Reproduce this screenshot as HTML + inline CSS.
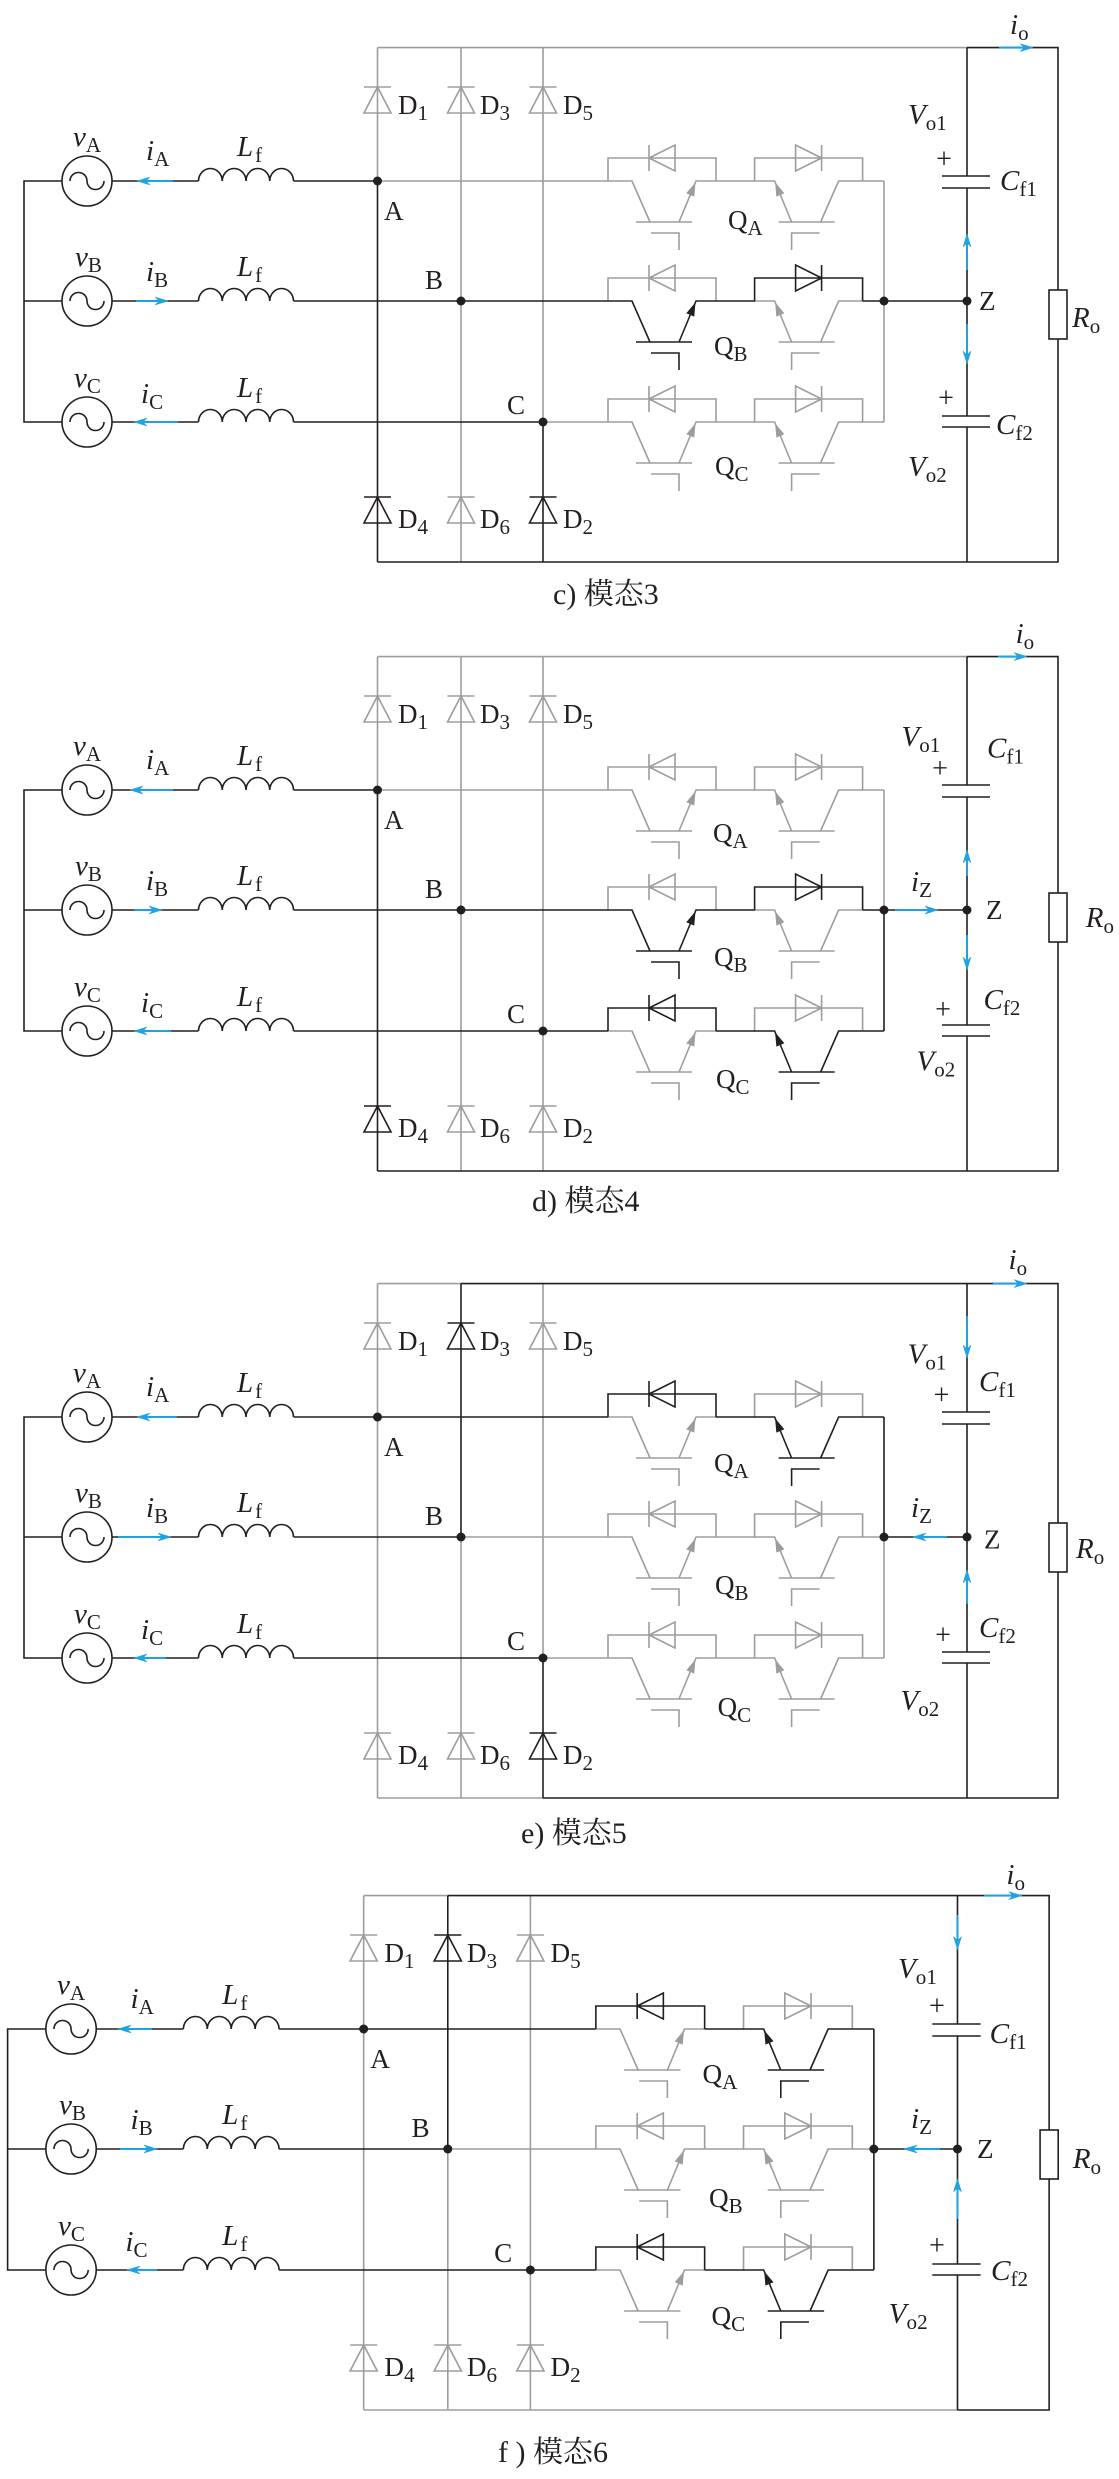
<!DOCTYPE html>
<html><head><meta charset="utf-8">
<style>
html,body{margin:0;padding:0;background:#fff;}
svg{display:block;}
.k{color:#231f20;}
.g{color:#9d9d9d;}
.b{color:#1ea2e4;}
.t{font-family:"Liberation Serif","Noto Serif CJK SC",serif;font-size:27px;fill:#231f20;}
.v{font-size:29px;}
.p{font-size:28px;}
.s{font-size:21px;font-style:normal;}
.i{font-style:italic;}
.cap{font-family:"Liberation Serif","Noto Serif CJK SC",serif;font-size:30px;fill:#231f20;}
</style></head>
<body>
<svg width="1119" height="2479" viewBox="0 0 1119 2479" xmlns="http://www.w3.org/2000/svg" stroke-width="1.6" fill="none">
<defs>
<path id="dv" d="M-13.5,-13H13.5M0,-13L-13.5,13H13.5Z" fill="none" stroke="currentColor"/>
<path id="hc" d="M608,0V-23H716V0M649,-36V-10M649,-23L675,-36V-10Z" fill="none" stroke="currentColor"/>
<g id="ig">
<path d="M608,0H632L650,41M636,41H692M679,41L696,0H716M651,52H679V69" fill="none" stroke="currentColor"/>
<polygon points="695,2.5 686.9,12.1 693.9,15.0" fill="currentColor" stroke="currentColor" stroke-width="0.8"/>
</g>
<g id="left" fill="none" stroke="currentColor">
<path d="M62,181H24V422H62M24,301H62"/>
<circle cx="87" cy="181" r="25"/><circle cx="87" cy="301" r="25"/><circle cx="87" cy="422" r="25"/>
<path d="M70,181A8.5,8.5 0 0 1 87,181A8.5,8.5 0 0 0 104,181M70,301A8.5,8.5 0 0 1 87,301A8.5,8.5 0 0 0 104,301M70,422A8.5,8.5 0 0 1 87,422A8.5,8.5 0 0 0 104,422"/>
<path d="M112,181H198.5M293.5,181H377.5M112,301H198.5M293.5,301H461M112,422H198.5M293.5,422H543"/>
<path d="M198.5,181a11.875,12.5 0 0 1 23.75,0a11.875,12.5 0 0 1 23.75,0a11.875,12.5 0 0 1 23.75,0a11.875,12.5 0 0 1 23.75,0"/>
<path d="M198.5,301a11.875,12.5 0 0 1 23.75,0a11.875,12.5 0 0 1 23.75,0a11.875,12.5 0 0 1 23.75,0a11.875,12.5 0 0 1 23.75,0"/>
<path d="M198.5,422a11.875,12.5 0 0 1 23.75,0a11.875,12.5 0 0 1 23.75,0a11.875,12.5 0 0 1 23.75,0a11.875,12.5 0 0 1 23.75,0"/>
</g>
<path id="cap" fill="none" stroke="currentColor" d="M967,47.6V176M942,176H990M942,188H990M967,188V416M942,416H990M942,427H990M967,427V562M884,301H967"/>
<g id="dots" fill="currentColor" stroke="none">
<circle cx="377.5" cy="181" r="4.5"/><circle cx="461" cy="301" r="4.5"/><circle cx="543" cy="422" r="4.5"/><circle cx="884" cy="301" r="4.5"/><circle cx="967" cy="301" r="4.5"/>
</g>
<g id="ltxt">
<text class="t v" x="73" y="146"><tspan class="i">v</tspan><tspan class="s" dy="6">A</tspan></text>
<text class="t v" x="75" y="266"><tspan class="i">v</tspan><tspan class="s" dy="6">B</tspan></text>
<text class="t v" x="74" y="387"><tspan class="i">v</tspan><tspan class="s" dy="6">C</tspan></text>
<text class="t v" x="146" y="160"><tspan class="i">i</tspan><tspan class="s" dy="6">A</tspan></text>
<text class="t v" x="146" y="281"><tspan class="i">i</tspan><tspan class="s" dy="6">B</tspan></text>
<text class="t v" x="141" y="403"><tspan class="i">i</tspan><tspan class="s" dy="6">C</tspan></text>
<text class="t v" x="237" y="156"><tspan class="i">L</tspan><tspan class="s" dx="2" dy="6">f</tspan></text>
<text class="t v" x="237" y="276"><tspan class="i">L</tspan><tspan class="s" dx="2" dy="6">f</tspan></text>
<text class="t v" x="237" y="397"><tspan class="i">L</tspan><tspan class="s" dx="2" dy="6">f</tspan></text>
<text class="t" x="384" y="220">A</text>
<text class="t" x="425" y="289">B</text>
<text class="t" x="507" y="414">C</text>
<text class="t" x="398" y="114">D<tspan class="s" dy="6">1</tspan></text>
<text class="t" x="480" y="114">D<tspan class="s" dy="6">3</tspan></text>
<text class="t" x="563" y="114">D<tspan class="s" dy="6">5</tspan></text>
<text class="t" x="398" y="528">D<tspan class="s" dy="6">4</tspan></text>
<text class="t" x="480" y="528">D<tspan class="s" dy="6">6</tspan></text>
<text class="t" x="563" y="528">D<tspan class="s" dy="6">2</tspan></text>
</g>
</defs>

<!-- ================= PANEL C ================= -->
<g transform="translate(0,0)">
<g class="g">
<path stroke="currentColor" d="M377.5,47.6H967M377.5,47.6V181M461,47.6V562M543,47.6V422M377.5,181H608M543,422H608M884,181V422M716,181H755M862.6,181H884M716,422H755M862.6,422H884"/>
<use href="#dv" x="377.5" y="100"/><use href="#dv" x="461" y="100"/><use href="#dv" x="543" y="100"/><use href="#dv" x="461" y="510"/>
<use href="#hc" transform="translate(0,181)"/><use href="#ig" transform="translate(0,181)"/>
<use href="#hc" transform="matrix(-1,0,0,1,1470.6,181)"/><use href="#ig" transform="matrix(-1,0,0,1,1470.6,181)"/>
<use href="#hc" transform="translate(0,301)"/><use href="#ig" transform="matrix(-1,0,0,1,1470.6,301)"/>
<use href="#hc" transform="translate(0,422)"/><use href="#ig" transform="translate(0,422)"/>
<use href="#hc" transform="matrix(-1,0,0,1,1470.6,422)"/><use href="#ig" transform="matrix(-1,0,0,1,1470.6,422)"/>
</g>
<g class="k">
<path stroke="currentColor" d="M377.5,181V562M543,422V562M377.5,562H967M967,47.6H1058V290M1058,339V562H967M461,301H608M716,301H755M862.6,301H884"/>
<rect x="1049" y="290" width="18" height="49" stroke="currentColor"/>
<use href="#dv" x="377.5" y="510"/><use href="#dv" x="543" y="510"/>
<use href="#ig" transform="translate(0,301)"/><use href="#hc" transform="matrix(-1,0,0,1,1470.6,301)"/>
<use href="#left"/><use href="#cap"/><use href="#dots"/>
</g>
<g class="b" fill="currentColor" stroke="currentColor" stroke-width="2">
<path d="M173,181H145"/><polygon stroke-width="0.5" points="137,181 150,177 146,181 150,185"/>
<path d="M136,301H160"/><polygon stroke-width="0.5" points="168,301 155,297 159,301 155,305"/>
<path d="M178,422H142"/><polygon stroke-width="0.5" points="134,422 147,418 143,422 147,426"/>
<path d="M999,47.6H1025"/><polygon stroke-width="0.5" points="1033,47.6 1020,43.6 1024,47.6 1020,51.6"/>
<path d="M967,270V242"/><polygon stroke-width="0.5" points="967,234 963,247 967,243 971,247"/>
<path d="M967,324V356"/><polygon stroke-width="0.5" points="967,364 963,351 967,355 971,351"/>
</g>
<use href="#ltxt"/>
<text class="t v" x="1010" y="34"><tspan class="i">i</tspan><tspan class="s" dy="6">o</tspan></text>
<text class="t v" x="908" y="124"><tspan class="i">V</tspan><tspan class="s" dy="6">o1</tspan></text>
<text class="t p" x="944" y="168" text-anchor="middle">+</text>
<text class="t v" x="1000" y="190"><tspan class="i">C</tspan><tspan class="s" dy="6">f1</tspan></text>
<text class="t" x="979" y="310">Z</text>
<text class="t v" x="996" y="434"><tspan class="i">C</tspan><tspan class="s" dy="6">f2</tspan></text>
<text class="t p" x="946" y="407" text-anchor="middle">+</text>
<text class="t v" x="908" y="476"><tspan class="i">V</tspan><tspan class="s" dy="6">o2</tspan></text>
<text class="t v" x="1072" y="327"><tspan class="i">R</tspan><tspan class="s" dy="6">o</tspan></text>
<text class="t" x="728" y="229">Q<tspan class="s" dy="6">A</tspan></text>
<text class="t" x="714" y="355">Q<tspan class="s" dy="6">B</tspan></text>
<text class="t" x="715" y="475">Q<tspan class="s" dy="6">C</tspan></text>
</g>
<text class="cap" x="553" y="604">c) 模态3</text>

<!-- ================= PANEL D ================= -->
<g transform="translate(0,609)">
<g class="g">
<path stroke="currentColor" d="M377.5,47.6H967M377.5,47.6V181M461,47.6V562M543,47.6V562M377.5,181H608M884,181V301M716,181H755M862.6,181H884"/>
<use href="#dv" x="377.5" y="100"/><use href="#dv" x="461" y="100"/><use href="#dv" x="543" y="100"/><use href="#dv" x="461" y="510"/><use href="#dv" x="543" y="510"/>
<use href="#hc" transform="translate(0,181)"/><use href="#ig" transform="translate(0,181)"/>
<use href="#hc" transform="matrix(-1,0,0,1,1470.6,181)"/><use href="#ig" transform="matrix(-1,0,0,1,1470.6,181)"/>
<use href="#hc" transform="translate(0,301)"/><use href="#ig" transform="matrix(-1,0,0,1,1470.6,301)"/>
<use href="#ig" transform="translate(0,422)"/><use href="#hc" transform="matrix(-1,0,0,1,1470.6,422)"/>
</g>
<g class="k">
<path stroke="currentColor" d="M377.5,181V562M377.5,562H967M967,47.6H1058V284M1058,333V562H967M461,301H608M543,422H608M716,301H755M862.6,301H884M716,422H755M862.6,422H884M884,301V422"/>
<rect x="1049" y="284" width="18" height="49" stroke="currentColor"/>
<use href="#dv" x="377.5" y="510"/>
<use href="#ig" transform="translate(0,301)"/><use href="#hc" transform="matrix(-1,0,0,1,1470.6,301)"/>
<use href="#hc" transform="translate(0,422)"/><use href="#ig" transform="matrix(-1,0,0,1,1470.6,422)"/>
<use href="#left"/><use href="#cap"/><use href="#dots"/>
</g>
<g class="b" fill="currentColor" stroke="currentColor" stroke-width="2">
<path d="M173,181H138"/><polygon stroke-width="0.5" points="130,181 143,177 139,181 143,185"/>
<path d="M134,301H154"/><polygon stroke-width="0.5" points="162,301 149,297 153,301 149,305"/>
<path d="M171,422H142"/><polygon stroke-width="0.5" points="134,422 147,418 143,422 147,426"/>
<path d="M998,47.6H1019"/><polygon stroke-width="0.5" points="1027,47.6 1014,43.6 1018,47.6 1014,51.6"/>
<path d="M967,267V249"/><polygon stroke-width="0.5" points="967,241 963,254 967,250 971,254"/>
<path d="M967,326V353"/><polygon stroke-width="0.5" points="967,361 963,348 967,352 971,348"/>
<path d="M895,301H930"/><polygon stroke-width="0.5" points="938,301 925,297 929,301 925,305"/>
</g>
<use href="#ltxt"/>
<text class="t v" x="1015.6" y="34"><tspan class="i">i</tspan><tspan class="s" dy="6">o</tspan></text>
<text class="t v" x="901.5" y="137"><tspan class="i">V</tspan><tspan class="s" dy="6">o1</tspan></text>
<text class="t p" x="940" y="168.5" text-anchor="middle">+</text>
<text class="t v" x="987" y="148.5"><tspan class="i">C</tspan><tspan class="s" dy="6">f1</tspan></text>
<text class="t v" x="911" y="282"><tspan class="i">i</tspan><tspan class="s" dy="6">Z</tspan></text>
<text class="t" x="986" y="310">Z</text>
<text class="t v" x="983.5" y="400"><tspan class="i">C</tspan><tspan class="s" dy="6">f2</tspan></text>
<text class="t p" x="943" y="409.5" text-anchor="middle">+</text>
<text class="t v" x="916.5" y="461.5"><tspan class="i">V</tspan><tspan class="s" dy="6">o2</tspan></text>
<text class="t v" x="1085.8" y="318"><tspan class="i">R</tspan><tspan class="s" dy="6">o</tspan></text>
<text class="t" x="713" y="233">Q<tspan class="s" dy="6">A</tspan></text>
<text class="t" x="714" y="357">Q<tspan class="s" dy="6">B</tspan></text>
<text class="t" x="716" y="479">Q<tspan class="s" dy="6">C</tspan></text>
</g>
<text class="cap" x="532" y="1211">d) 模态4</text>

<!-- ================= PANEL E ================= -->
<g transform="translate(0,1236)">
<g class="g">
<path stroke="currentColor" d="M377.5,47.6H461M377.5,47.6V562M461,301V562M543,47.6V422M377.5,562H543M461,301H608M543,422H608M884,301V422M716,301H755M862.6,301H884M716,422H755M862.6,422H884"/>
<use href="#dv" x="377.5" y="100"/><use href="#dv" x="543" y="100"/><use href="#dv" x="377.5" y="510"/><use href="#dv" x="461" y="510"/>
<use href="#ig" transform="translate(0,181)"/><use href="#hc" transform="matrix(-1,0,0,1,1470.6,181)"/>
<use href="#hc" transform="translate(0,301)"/><use href="#ig" transform="translate(0,301)"/>
<use href="#hc" transform="matrix(-1,0,0,1,1470.6,301)"/><use href="#ig" transform="matrix(-1,0,0,1,1470.6,301)"/>
<use href="#hc" transform="translate(0,422)"/><use href="#ig" transform="translate(0,422)"/>
<use href="#hc" transform="matrix(-1,0,0,1,1470.6,422)"/><use href="#ig" transform="matrix(-1,0,0,1,1470.6,422)"/>
</g>
<g class="k">
<path stroke="currentColor" d="M461,47.6H1058V287M1058,336V562H543M461,47.6V301M543,422V562M377.5,181H608M716,181H755M862.6,181H884M884,181V301"/>
<rect x="1049" y="287" width="18" height="49" stroke="currentColor"/>
<use href="#dv" x="461" y="100"/><use href="#dv" x="543" y="510"/>
<use href="#hc" transform="translate(0,181)"/><use href="#ig" transform="matrix(-1,0,0,1,1470.6,181)"/>
<use href="#left"/><use href="#cap"/><use href="#dots"/>
</g>
<g class="b" fill="currentColor" stroke="currentColor" stroke-width="2">
<path d="M177,181H145"/><polygon stroke-width="0.5" points="137,181 150,177 146,181 150,185"/>
<path d="M118,301H163"/><polygon stroke-width="0.5" points="171,301 158,297 162,301 158,305"/>
<path d="M166,422H142"/><polygon stroke-width="0.5" points="134,422 147,418 143,422 147,426"/>
<path d="M993,47.6H1019"/><polygon stroke-width="0.5" points="1027,47.6 1014,43.6 1018,47.6 1014,51.6"/>
<path d="M967,80V114"/><polygon stroke-width="0.5" points="967,122 963,109 967,113 971,109"/>
<path d="M967,368V342"/><polygon stroke-width="0.5" points="967,334 963,347 967,343 971,347"/>
<path d="M947,301H921"/><polygon stroke-width="0.5" points="913,301 926,297 922,301 926,305"/>
</g>
<use href="#ltxt"/>
<text class="t v" x="1008.5" y="33"><tspan class="i">i</tspan><tspan class="s" dy="6">o</tspan></text>
<text class="t v" x="907.6" y="127.5"><tspan class="i">V</tspan><tspan class="s" dy="6">o1</tspan></text>
<text class="t p" x="941.5" y="168" text-anchor="middle">+</text>
<text class="t v" x="979" y="155"><tspan class="i">C</tspan><tspan class="s" dy="6">f1</tspan></text>
<text class="t v" x="911" y="281"><tspan class="i">i</tspan><tspan class="s" dy="6">Z</tspan></text>
<text class="t" x="984" y="312.6">Z</text>
<text class="t v" x="979" y="401"><tspan class="i">C</tspan><tspan class="s" dy="6">f2</tspan></text>
<text class="t p" x="943" y="408" text-anchor="middle">+</text>
<text class="t v" x="900.5" y="474"><tspan class="i">V</tspan><tspan class="s" dy="6">o2</tspan></text>
<text class="t v" x="1076" y="322"><tspan class="i">R</tspan><tspan class="s" dy="6">o</tspan></text>
<text class="t" x="714" y="236">Q<tspan class="s" dy="6">A</tspan></text>
<text class="t" x="715" y="358">Q<tspan class="s" dy="6">B</tspan></text>
<text class="t" x="717.6" y="480">Q<tspan class="s" dy="6">C</tspan></text>
</g>
<text class="cap" x="521" y="1843">e) 模态5</text>

<!-- ================= PANEL F ================= -->
<g transform="translate(-16.58,1848) scale(1.0073,1)">
<g class="g">
<path stroke="currentColor" d="M377.5,47.6H461M377.5,47.6V562M461,301V562M543,47.6V562M377.5,562H967M461,301H608M716,301H755M862.6,301H884"/>
<use href="#dv" x="377.5" y="100"/><use href="#dv" x="543" y="100"/><use href="#dv" x="377.5" y="510"/><use href="#dv" x="461" y="510"/><use href="#dv" x="543" y="510"/>
<use href="#ig" transform="translate(0,181)"/><use href="#hc" transform="matrix(-1,0,0,1,1470.6,181)"/>
<use href="#hc" transform="translate(0,301)"/><use href="#ig" transform="translate(0,301)"/>
<use href="#hc" transform="matrix(-1,0,0,1,1470.6,301)"/><use href="#ig" transform="matrix(-1,0,0,1,1470.6,301)"/>
<use href="#ig" transform="translate(0,422)"/><use href="#hc" transform="matrix(-1,0,0,1,1470.6,422)"/>
</g>
<g class="k">
<path stroke="currentColor" d="M461,47.6H1058V282M1058,331V562H967M461,47.6V301M377.5,181H608M543,422H608M716,181H755M862.6,181H884M716,422H755M862.6,422H884M884,181V422"/>
<rect x="1049" y="282" width="18" height="49" stroke="currentColor"/>
<use href="#dv" x="461" y="100"/>
<use href="#hc" transform="translate(0,181)"/><use href="#ig" transform="matrix(-1,0,0,1,1470.6,181)"/>
<use href="#hc" transform="translate(0,422)"/><use href="#ig" transform="matrix(-1,0,0,1,1470.6,422)"/>
<use href="#left"/><use href="#cap"/><use href="#dots"/>
</g>
<g class="b" fill="currentColor" stroke="currentColor" stroke-width="2">
<path d="M167.4,181H141.6"/><polygon stroke-width="0.5" points="133.6,181 146.6,177 142.6,181 146.6,185"/>
<path d="M135.6,301H164.3"/><polygon stroke-width="0.5" points="172.3,301 159.3,297 163.3,301 159.3,305"/>
<path d="M172.3,422H150.5"/><polygon stroke-width="0.5" points="142.5,422 155.5,418 151.5,422 155.5,426"/>
<path d="M993.3,47.6H1023"/><polygon stroke-width="0.5" points="1031,47.6 1018,43.6 1022,47.6 1018,51.6"/>
<path d="M967,67V93.5"/><polygon stroke-width="0.5" points="967,101.5 963,88.5 967,92.5 971,88.5"/>
<path d="M967,371V339"/><polygon stroke-width="0.5" points="967,331 963,344 967,340 971,344"/>
<path d="M949.4,301H921.9"/><polygon stroke-width="0.5" points="913.9,301 926.9,297 922.9,301 926.9,305"/>
</g>
<use href="#ltxt"/>
<text class="t v" x="1015.6" y="36"><tspan class="i">i</tspan><tspan class="s" dy="6">o</tspan></text>
<text class="t v" x="907.9" y="130"><tspan class="i">V</tspan><tspan class="s" dy="6">o1</tspan></text>
<text class="t p" x="946.7" y="167" text-anchor="middle">+</text>
<text class="t v" x="998.9" y="195"><tspan class="i">C</tspan><tspan class="s" dy="6">f1</tspan></text>
<text class="t v" x="920.9" y="280"><tspan class="i">i</tspan><tspan class="s" dy="6">Z</tspan></text>
<text class="t" x="986.4" y="310">Z</text>
<text class="t v" x="1000.3" y="432"><tspan class="i">C</tspan><tspan class="s" dy="6">f2</tspan></text>
<text class="t p" x="946.7" y="406.7" text-anchor="middle">+</text>
<text class="t v" x="898.7" y="474.8"><tspan class="i">V</tspan><tspan class="s" dy="6">o2</tspan></text>
<text class="t v" x="1081.4" y="320"><tspan class="i">R</tspan><tspan class="s" dy="6">o</tspan></text>
<text class="t" x="713.9" y="235">Q<tspan class="s" dy="6">A</tspan></text>
<text class="t" x="720.3" y="359">Q<tspan class="s" dy="6">B</tspan></text>
<text class="t" x="722.8" y="477">Q<tspan class="s" dy="6">C</tspan></text>
</g>
<text class="cap" x="498" y="2462">f ) 模态6</text>
</svg>
</body></html>
